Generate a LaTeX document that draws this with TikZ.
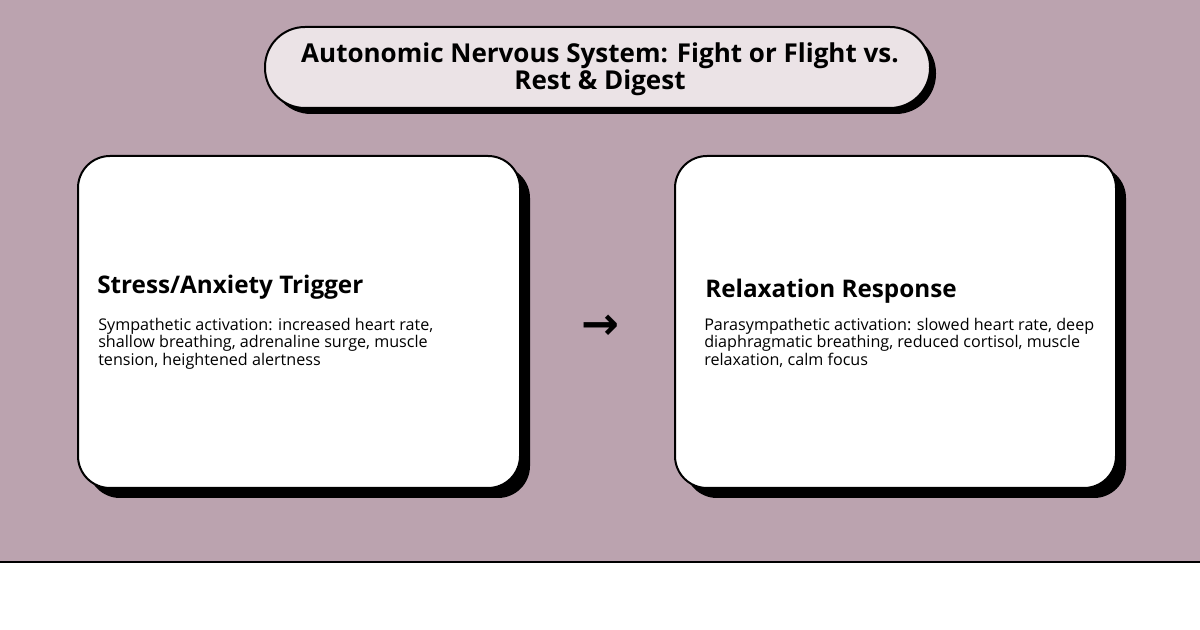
\documentclass[tikz,border=0pt]{standalone}
\usepackage{fontspec}
\setmainfont{Open Sans}
\newfontfamily\arrowfont{DejaVu Sans}
\usetikzlibrary{positioning}
\definecolor{bgmauve}{HTML}{BBA3AF}
\definecolor{pillfill}{HTML}{EBE3E6}
\tikzset{>=stealth}

\begin{document}
\begin{tikzpicture}[x=0.75pt,y=-0.75pt,
                    panel/.style={draw=black, line width=1.5pt, fill=white, rounded corners=24pt},
                    shade/.style={fill=black, rounded corners=24pt},
                    heading/.style={font=\bfseries\fontsize{18.2}{20}\selectfont, anchor=west, inner sep=0pt},
                    body/.style={font=\fontsize{12.1}{12}\selectfont, anchor=north west, inner sep=0pt, align=left},
                   ]

\useasboundingbox (0,0) rectangle (1200,630);
\fill[bgmauve] (0,0) rectangle (1200,562);
\draw[line width=1.2pt] (0,562) -- (1200,562);

% title pill
\fill[black, rounded corners=30pt] (271,33) rectangle (936,114);
\draw[line width=1.5pt, fill=pillfill, rounded corners=30pt] (265,27) rectangle (930,108);
\node[font=\bfseries\fontsize{19.5}{20}\selectfont, align=center] (title) at (600,69)
  {Autonomic Nervous System: Fight or Flight vs.\\Rest \& Digest};

% panels
\fill[shade] (88,166) rectangle (530,498);
\draw[panel] (78,156) rectangle (520,488);
\fill[shade] (685,166) rectangle (1126,498);
\draw[panel] (675,156) rectangle (1116,488);

\node[heading] (stress) at (97,287) {Stress/Anxiety Trigger};
\node[body] (stressbody) at (98,318) {Sympathetic activation: increased heart rate,\\shallow breathing, adrenaline surge, muscle\\tension, heightened alertness};

\node[heading] (relax) at (705,291) {Relaxation Response};
\node[body] (relaxbody) at (704,318) {Parasympathetic activation: slowed heart rate, deep\\diaphragmatic breathing, reduced cortisol, muscle\\relaxation, calm focus};

\node[font=\arrowfont\bfseries\fontsize{34}{34}\selectfont] (arrow) at (600,327) {→};

\end{tikzpicture}
\end{document}
